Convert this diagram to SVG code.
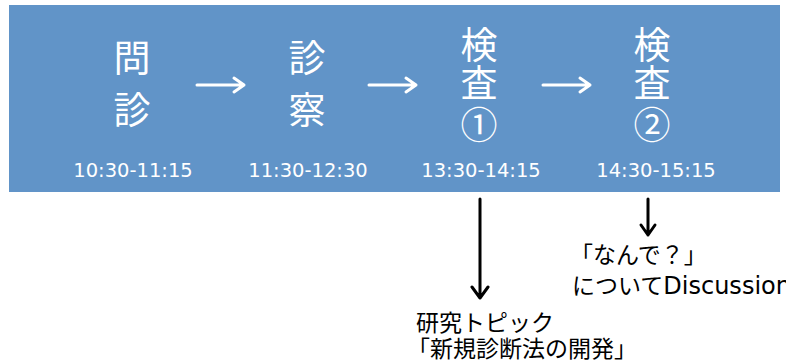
<svg xmlns="http://www.w3.org/2000/svg" width="786" height="363" viewBox="0 0 786 363">
<style>
.big{font-family:"Noto Sans CJK JP",sans-serif;font-size:37px;fill:#fff;text-anchor:middle}
.time{font-family:"DejaVu Sans",sans-serif;font-size:19.5px;fill:#fff;text-anchor:middle}
.note{font-family:"Noto Sans CJK JP",sans-serif;font-size:23px;fill:#000}
.lat{font-family:"DejaVu Sans",sans-serif;font-size:24px}
.wa{stroke:#fff;stroke-width:3;fill:none;stroke-linecap:round;stroke-linejoin:round}
.ba{stroke:#000;stroke-width:3;fill:none;stroke-linecap:round;stroke-linejoin:round}
</style>
<rect x="9" y="5" width="771" height="187" fill="#6194c8"/>
<g id="step1">
<text class="big" x="132" y="72">問</text>
<text class="big" x="132" y="124">診</text>
<text class="time" x="133" y="177">10:30-11:15</text>
</g>
<g id="step2">
<text class="big" x="307" y="72">診</text>
<text class="big" x="307" y="124">察</text>
<text class="time" x="308" y="177">11:30-12:30</text>
</g>
<g id="step3">
<text class="big" x="479" y="59">検</text>
<text class="big" x="479" y="97">査</text>
<text class="big" x="479" y="139">①</text>
<text class="time" x="481" y="177">13:30-14:15</text>
</g>
<g id="step4">
<text class="big" x="652" y="59">検</text>
<text class="big" x="652" y="97">査</text>
<text class="big" x="652" y="139">②</text>
<text class="time" x="656" y="177">14:30-15:15</text>
</g>
<g id="note1">
<text class="note" x="416" y="331">研究トピック</text>
<text class="note" x="407" y="357">「新規診断法の開発」</text>
</g>
<g id="note2">
<text class="note" x="570" y="263">「なんで？」</text>
<text class="note" x="572" y="294">について<tspan class="lat">Discussion</tspan></text>
</g>
<g id="connectors">
<path class="wa" d="M197 85H244M234 78L244 85L234 92"/>
<path class="wa" d="M369 85H416M406 78L416 85L406 92"/>
<path class="wa" d="M543 85H590M580 78L590 85L580 92"/>
<path class="ba" d="M480 199V298M472 287L480 298L488 287"/>
<path class="ba" d="M648 199V235M641 225L648 235L655 225"/>
</g>
</svg>
